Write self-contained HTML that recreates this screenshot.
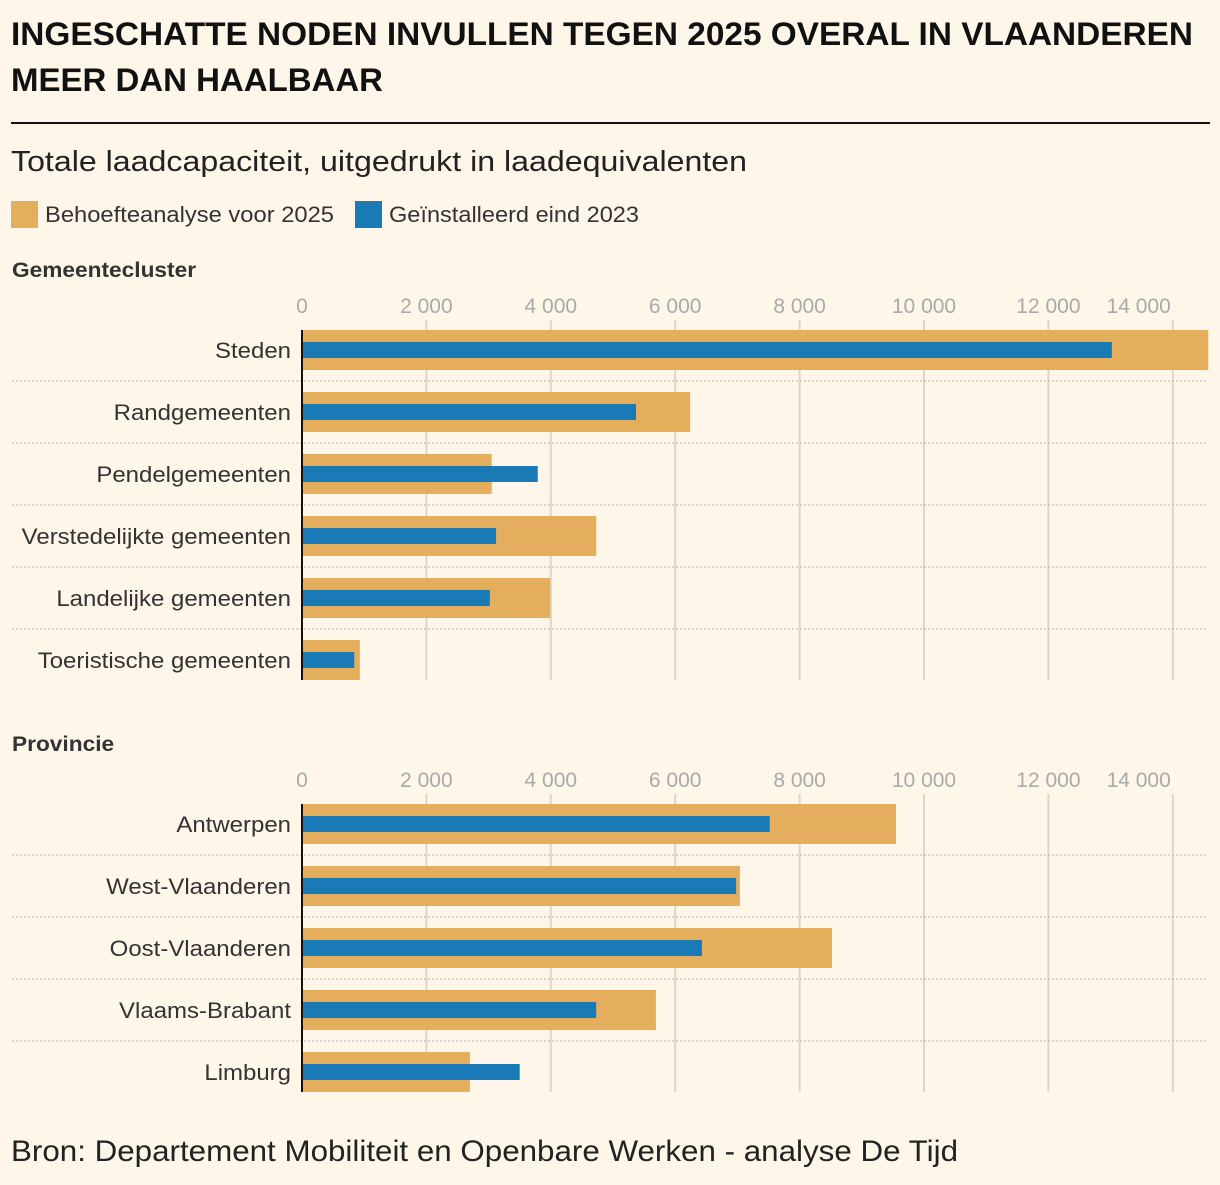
<!DOCTYPE html>
<html><head><meta charset="utf-8">
<style>
body{margin:0;background:#fdf6e9;font-family:"Liberation Sans",Arial,sans-serif;}
svg text{font-family:"Liberation Sans",Arial,sans-serif;}
</style></head>
<body>
<svg id="chart" width="1220" height="1180" viewBox="0 0 1220 1180">
<rect width="1220" height="1180" fill="#fdf6e9"/>
<text x="11" y="45" font-size="32" font-weight="bold" fill="#111" textLength="1182" lengthAdjust="spacingAndGlyphs">INGESCHATTE NODEN INVULLEN TEGEN 2025 OVERAL IN VLAANDEREN</text>
<text x="11" y="91" font-size="32" font-weight="bold" fill="#111" textLength="372" lengthAdjust="spacingAndGlyphs">MEER DAN HAALBAAR</text>
<line x1="11" y1="123" x2="1210" y2="123" stroke="#111" stroke-width="2"/>
<text x="11" y="171" font-size="29" fill="#222" textLength="736" lengthAdjust="spacingAndGlyphs">Totale laadcapaciteit, uitgedrukt in laadequivalenten</text>
<rect x="11" y="201" width="27" height="27" fill="#e5ae5c"/>
<text x="45" y="222" font-size="22" fill="#333" textLength="289" lengthAdjust="spacingAndGlyphs">Behoefteanalyse voor 2025</text>
<rect x="355" y="201" width="27" height="27" fill="#1a7ab5"/>
<text x="389" y="222" font-size="22" fill="#333" textLength="250" lengthAdjust="spacingAndGlyphs">Geïnstalleerd eind 2023</text>
<text x="11" y="1161" font-size="30" fill="#222" textLength="947" lengthAdjust="spacingAndGlyphs">Bron: Departement Mobiliteit en Openbare Werken - analyse De Tijd</text>
<g id="plots"></g>
</svg>
<script>
const ticks = [0, 2000, 4000, 6000, 8000, 10000, 12000, 14000];
const tickLabels = ["0", "2 000", "4 000", "6 000", "8 000", "10 000", "12 000", "14 000"];
const clusterCats = ["Steden", "Randgemeenten", "Pendelgemeenten", "Verstedelijkte gemeenten", "Landelijke gemeenten", "Toeristische gemeenten"];
const clusterNeed = [14570, 6240, 3050, 4730, 3990, 930];
const clusterInstalled = [13020, 5370, 3790, 3120, 3020, 840];
const provCats = ["Antwerpen", "West-Vlaanderen", "Oost-Vlaanderen", "Vlaams-Brabant", "Limburg"];
const provNeed = [9550, 7040, 8520, 5690, 2700];
const provInstalled = [7520, 6980, 6430, 4730, 3500];

const NS = "http://www.w3.org/2000/svg";
const g = document.getElementById("plots");
const x = v => 302 + v * 0.0622;
function mk(tag, attrs, parent) {
  const e = document.createElementNS(NS, tag);
  for (const k in attrs) e.setAttribute(k, attrs[k]);
  (parent || g).appendChild(e);
  return e;
}
function panel(title, titleY, tickY, firstRowY, cats, need, inst, key) {
  const t = mk("text", {x: 12, y: titleY, "font-size": 21, "font-weight": "bold", fill: "#333"});
  t.textContent = title;
  
  
  const tw = t.getComputedTextLength();
  t.setAttribute("textLength", tw * 1.08);
  t.setAttribute("lengthAdjust", "spacingAndGlyphs");
  const top = firstRowY - 20, bottom = firstRowY + 62 * (cats.length - 1) + 20;
  ticks.forEach((v, i) => {
    if (v > 0) {
      const gl = mk("line", {x1: x(v), x2: x(v), y1: tickY + 15, y2: bottom, stroke: "#ddd6c8", "stroke-width": 2});
      
      
    }
    const tx = i === ticks.length - 1 ? x(v) - 2 : x(v);
    const lb = mk("text", {x: tx, y: tickY + 8, "font-size": 21, fill: "#aaa", "text-anchor": i === ticks.length - 1 ? "end" : "middle"});
    lb.textContent = tickLabels[i];
    
    
  });
  cats.forEach((c, i) => {
    const cy = firstRowY + 62 * i;
    if (i < cats.length - 1) {
      const sep = mk("line", {x1: 12, x2: 1208, y1: cy + 31, y2: cy + 31, stroke: "#b9b3a8", "stroke-width": 1, "stroke-dasharray": "2,2"});
      
      
    }
    const lb = mk("text", {x: 291, y: cy + 8, "font-size": 22, fill: "#333", "text-anchor": "end"});
    lb.textContent = c;
    
    
    const w = lb.getComputedTextLength();
    lb.setAttribute("textLength", w * 1.09);
    lb.setAttribute("lengthAdjust", "spacingAndGlyphs");
    const b1 = mk("rect", {x: x(0), y: cy - 20, width: x(need[i]) - x(0), height: 40, fill: "#e5ae5c"});
    
    
    const b2 = mk("rect", {x: x(0), y: cy - 8, width: x(inst[i]) - x(0), height: 16, fill: "#1a7ab5"});
    
    
  });
  const ax = mk("line", {x1: x(0), x2: x(0), y1: top, y2: bottom, stroke: "#111", "stroke-width": 2});
  
  
}
panel("Gemeentecluster", 277, 305, 350, clusterCats, clusterNeed, clusterInstalled, "cluster");
panel("Provincie", 751, 779, 824, provCats, provNeed, provInstalled, "province");
</script>
</body></html>
